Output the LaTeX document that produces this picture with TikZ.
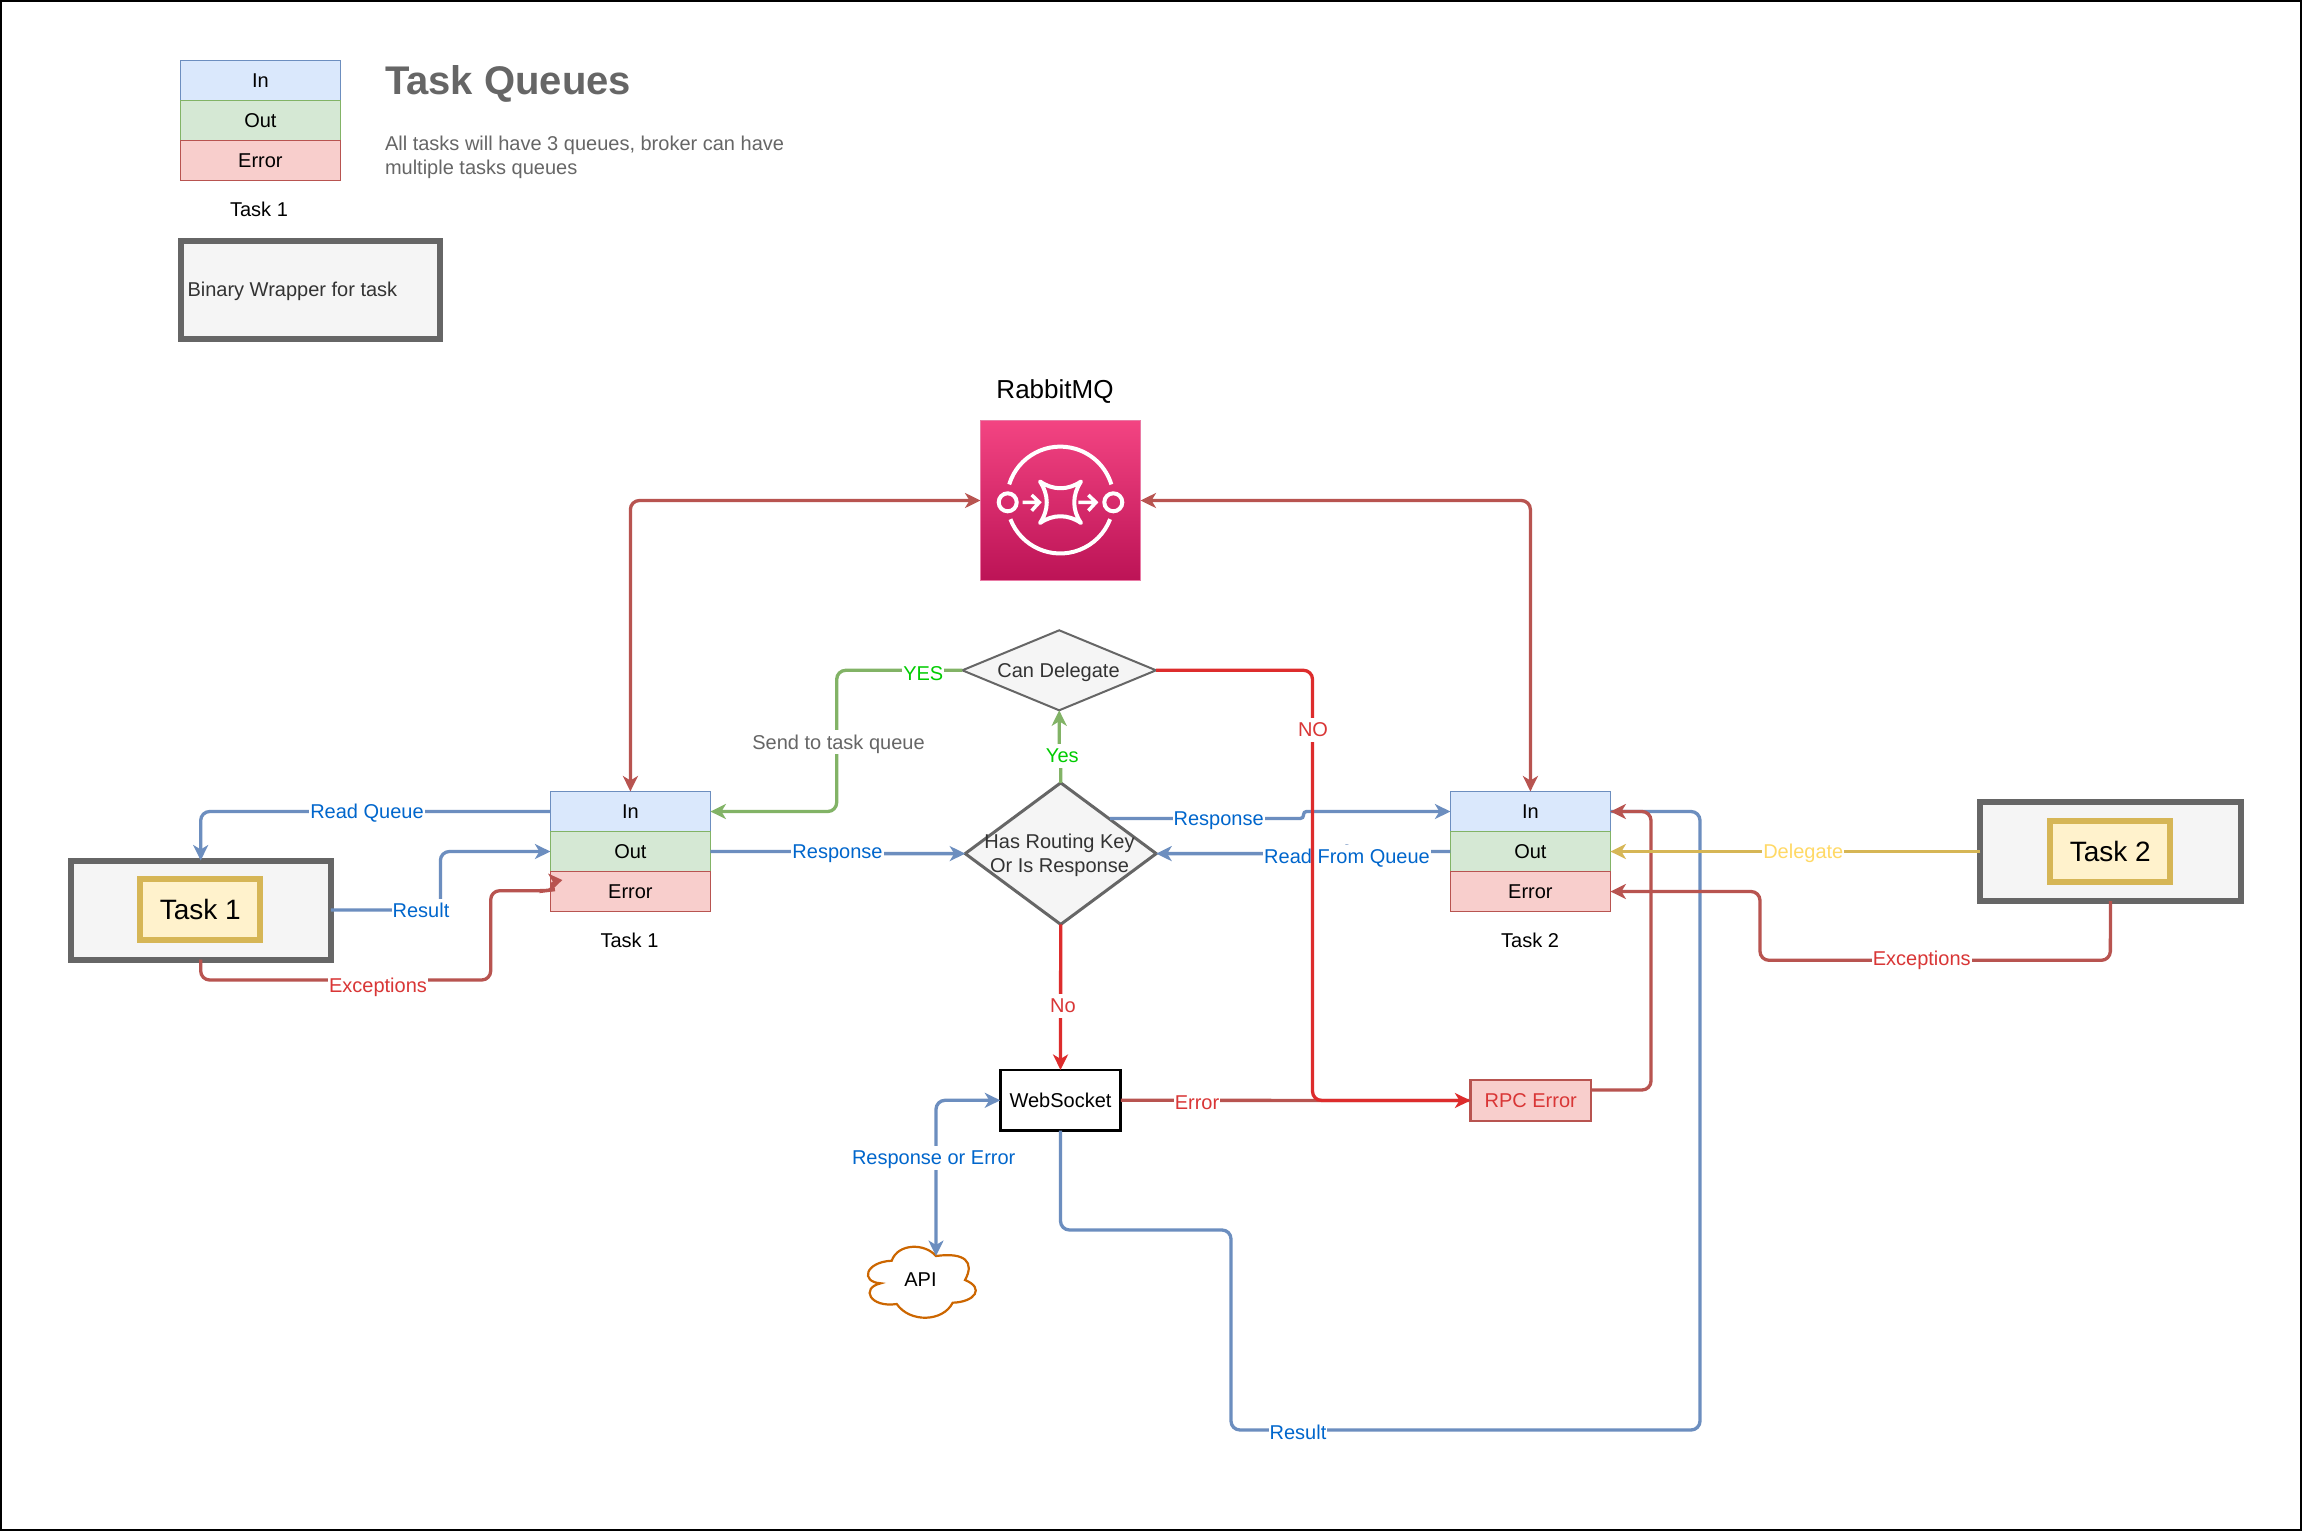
\documentclass[tikz,border=0pt]{standalone}
\usepackage{fontspec}
\setmainfont{Liberation Sans}
\usetikzlibrary{arrows.meta,shapes.geometric}
\definecolor{cblue}{HTML}{6C8EBF}
\definecolor{cbrown}{HTML}{B85450}
\definecolor{cgreen}{HTML}{82B366}
\definecolor{cred}{HTML}{DD2C2C}
\definecolor{tred}{HTML}{D93636}
\definecolor{cyel}{HTML}{D6B656}
\definecolor{cgrey}{HTML}{666666}
\definecolor{tblue}{HTML}{0066CC}
\definecolor{tgreen}{HTML}{00CC00}
\definecolor{tyel}{HTML}{FFD966}
\definecolor{tdark}{HTML}{333333}
\definecolor{fin}{HTML}{DAE8FC}
\definecolor{fout}{HTML}{D5E8D4}
\definecolor{ferr}{HTML}{F8CECC}
\definecolor{fwrap}{HTML}{F5F5F5}
\definecolor{ftask}{HTML}{FFF2CC}
\definecolor{rtop}{HTML}{F34482}
\definecolor{rbot}{HTML}{BC1356}
\definecolor{rline}{HTML}{E97AA5}
\definecolor{corange}{HTML}{CC6600}
\tikzset{
  base/.style={font=\fontsize{20}{24}\selectfont, inner sep=0pt, outer sep=0pt},
  fixedtext/.style={text height=15.7pt, text depth=2.3pt},
  cell/.style={base, fixedtext, draw, line width=1.6pt, minimum width=160pt, minimum height=40pt},
  cin/.style={cell, draw=cblue, fill=fin},
  cout/.style={cell, draw=cgreen, fill=fout},
  cerr/.style={cell, draw=cbrown, fill=ferr},
  wrapbox/.style={base, draw=cgrey, fill=fwrap, line width=6pt, minimum width=260.3pt, minimum height=99pt},
  taskbox/.style={base, draw=cyel, fill=ftask, line width=6pt, minimum width=120pt, minimum height=60.5pt, font=\fontsize{28}{32}\selectfont},
  plain/.style={base, fixedtext},
  lbl/.style={base, fixedtext, fill=white, inner xsep=1pt, inner ysep=3pt},
  link/.style={line width=3.3pt, rounded corners=9pt},
  tip/.style={-{Stealth[length=15.5pt,width=15pt,inset=4.5pt]}},
  bothtips/.style={{Stealth[length=15.5pt,width=15pt,inset=4.5pt]}-{Stealth[length=15.5pt,width=15pt,inset=4.5pt]}},
  icon/.style={draw=white, line width=4pt},
}
\begin{document}
\begin{tikzpicture}[x=1pt,y=-1pt]
\useasboundingbox (0,0) rectangle (2302,1531);
\fill[white] (0,0) rectangle (2302,1531);
\draw[black,line width=2pt] (1,1) rectangle (2301,1530);

% legend
\node[cin]  (l0in)  at (260.4,80.3)  {In};
\node[cout] (l0out) at (260.4,120.3) {Out};
\node[cerr] (l0err) at (260.4,160.3) {Error};
\node[plain] (l0name) at (259,210) {Task 1};
\node[wrapbox, minimum width=259.5pt, minimum height=98.5pt] (l0wrap) at (310.4,289.85) {};
\node[plain, anchor=west, text=tdark] (l0text) at (187.5,290) {Binary Wrapper for task};
\node[base, anchor=west, text=cgrey, font=\fontsize{40}{44}\bfseries\selectfont] (title) at (385,84) {Task Queues};
\node[base, anchor=west, align=left, text=cgrey, font=\fontsize{20}{24}\selectfont] (subtitle) at (385,157.5) {All tasks will have 3 queues, broker can have\\multiple tasks queues};

% rabbit
\node[base, font=\fontsize{26}{30}\selectfont] (rabbitname) at (1055,392) {RabbitMQ};
\node[base, draw=rline, line width=1pt, top color=rtop, bottom color=rbot, minimum width=160pt, minimum height=160pt] (rabbit) at (1060.5,500.5) {};
\draw[icon] (1009.2,484.4) arc[start angle=-163,end angle=-17,radius=53.4];
\draw[icon] (1010.4,519.2) arc[start angle=159,end angle=21,radius=53.4];
\draw[icon] (1007.7,502.3) circle[radius=9];
\draw[icon] (1113.3,502.3) circle[radius=9];
\draw[icon, line join=round, line cap=round] (1040,481.5) .. controls (1053,490.5) and (1068,490.5) .. (1081,481.5) .. controls (1072,495) and (1072,510) .. (1081,523) .. controls (1068,514) and (1053,514) .. (1040,523) .. controls (1049,510) and (1049,495) .. (1040,481.5) -- cycle;
\draw[icon, line width=3.5pt] (1022.7,502.3) -- (1038,502.3) (1031.7,495) -- (1039.3,502.3) -- (1031.7,510.7);
\draw[icon, line width=3.5pt] (1078.3,502.3) -- (1094,502.3) (1088.3,495) -- (1096,502.3) -- (1088.3,510.7);

% queues
\node[cin]  (q1in)  at (630.4,811.5) {In};
\node[cout] (q1out) at (630.4,851.5) {Out};
\node[cerr] (q1err) at (630.4,891.5) {Error};
\node[plain] (q1name) at (629.5,941) {Task 1};
\node[cin]  (q2in)  at (1530.4,811.5) {In};
\node[cout] (q2out) at (1530.4,851.5) {Out};
\node[cerr] (q2err) at (1530.4,891.5) {Error};
\node[plain] (q2name) at (1530,941) {Task 2};

% wrappers
\node[wrapbox] (w1) at (200.7,910) {};
\node[taskbox] (t1) at (200.3,909.7) {Task 1};
\node[wrapbox] (w2) at (2110.5,851.5) {};
\node[taskbox] (t2) at (2110.3,851.5) {Task 2};

% decisions
\node[base, diamond, aspect=1.4, draw=cgrey, fill=fwrap, line width=3pt, minimum width=191pt, minimum height=141.6pt] (route) at (1060.7,853.6) {};
\node[base, diamond, aspect=2.4, draw=cgrey, fill=fwrap, line width=2pt, minimum width=193.7pt, minimum height=80pt] (can) at (1059.2,670.3) {};
\node[plain, text=tdark] (cantext) at (1058.5,670.3) {Can Delegate};

% others
\node[base, fixedtext, draw=black, fill=white, line width=2.6pt, minimum width=120.5pt, minimum height=60.7pt] (ws) at (1060.5,1100.3) {WebSocket};
\node[base, fixedtext, draw=cbrown, fill=ferr, text=tred, line width=2.6pt, minimum width=120.6pt, minimum height=41pt] (rpc) at (1530.7,1100.5) {RPC Error};
\draw[corange, line width=2.2pt, fill=white] (936,1256) .. controls (925,1243) and (898,1243) .. (891.7,1260.7) .. controls (865,1262) and (860,1282) .. (880.7,1283.3) .. controls (860,1288) and (870,1308) .. (896.7,1304) .. controls (910,1323) and (943,1322) .. (952.7,1302.7) .. controls (975,1302) and (985,1288) .. (965,1280) .. controls (975,1262) and (965,1252) .. (936,1256) -- cycle;
\node[plain] (api) at (920.5,1280) {API};
\coordinate (apitop) at (936,1256);

% connectors
\draw[link, cbrown, bothtips] (q1in.north) -- (630.4,500.5) -- (rabbit.west);
\draw[link, cbrown, bothtips] (q2in.north) -- (1530.4,500.5) -- (rabbit.east);

\draw[link, cblue, tip] (q1in.west) -- (200.7,811.5) -- (w1.north);
\draw[link, cblue, tip] (w1.east) -- (440.4,910) -- (440.4,851.5) -- (q1out.west);
\coordinate (exend) at (553,882);
\draw[link, cbrown] (w1.south) -- (200.7,980) -- (490.7,980) -- (490.7,890.7) -- (546,890.7) [rounded corners=4pt] -- (552,890) -- (exend);
\fill[cbrown] (562.3,880) -- (548,873.5) -- (553,882) -- (551.5,890.5) -- cycle;

\draw[link, cgreen, tip] (can.west) -- (836.7,670.3) -- (836.7,811.5) -- (q1in.east);
\draw[link, cgreen, tip] (route.north) -- (1060.7,756) -- (1059.2,756) -- (can.south);
\draw[link, cblue, tip] (q1out.east) -- (838,851.5) -- (838,853.6) -- (route.west);
\coordinate (respstart) at (1110,818.4);
\draw[link, rounded corners=3pt, cblue, tip] (respstart) -- (1303.5,818.4) -- (1303.5,811.5) -- (q2in.west);
\draw[link, cblue, tip] (q2out.west) -- (1347,851.5) -- (1347,853.6) -- (route.east);

% labels beneath the crossing line
\node[lbl, text=tblue] (lresp2) at (1218.7,818.4) {Response};
\node[lbl, text=tblue] (lread) at (1347,857) {Read From Queue};

\draw[link, cbrown] (ws.east) -- (rpc.west);
\draw[link, cred, tip] (can.east) -- (1312.5,670.3) -- (1312.5,1100.4) -- (rpc.west);
\draw[link, cred, tip] (route.south) -- (ws.north);

\draw[link, cblue] (ws.south) -- (1060.5,1230) -- (1231,1230) -- (1231,1430) -- (1700,1430) -- (1700,811.5) -- (q2in.east);
\coordinate (rpcout) at (1591,1090);
\draw[link, cbrown, tip] (rpcout) -- (1651,1090) -- (1651,811.5) -- (q2in.east);
\draw[link, cblue, bothtips] (ws.west) -- (936,1100.3) -- (apitop);
\draw[link, cyel, tip] (w2.west) -- (q2out.east);
\draw[link, cbrown, tip] (w2.south) -- (2110.3,960.3) -- (1760,960.3) -- (1760,891.5) -- (q2err.east);

% labels
\node[lbl, text=tblue] (lreadq) at (367,811.7) {Read Queue};
\node[lbl, text=tblue] (lres1) at (421,911) {Result};
\node[lbl, text=tred] (lexc1) at (378,986) {Exceptions};
\node[lbl, text=tgreen] (lyes1) at (923.3,673.3) {YES};
\node[lbl, text=cgrey] (lsend) at (838.5,742.3) {Send to task queue};
\node[lbl, text=tgreen] (lyes2) at (1062.3,756) {Yes};
\node[lbl, text=tblue] (lresp1) at (837.5,851.7) {Response};
\node[lbl, text=tred] (lno1) at (1313,729.6) {NO};
\node[lbl, text=tred] (lno2) at (1063,1006) {No};
\node[lbl, text=tred] (lerr) at (1197,1103) {Error};
\node[lbl, text=tblue] (lroe) at (933.7,1158) {Response or Error};
\node[lbl, text=tblue] (lres2) at (1298,1433) {Result};
\node[lbl, text=tyel] (ldel) at (1803.3,851.5) {Delegate};
\node[lbl, text=tred] (lexc2) at (1921.7,959) {Exceptions};

\node[base, align=center, text=tdark] (routetext) at (1059.5,855) {Has Routing Key\\Or Is Response};
\end{tikzpicture}
\end{document}
